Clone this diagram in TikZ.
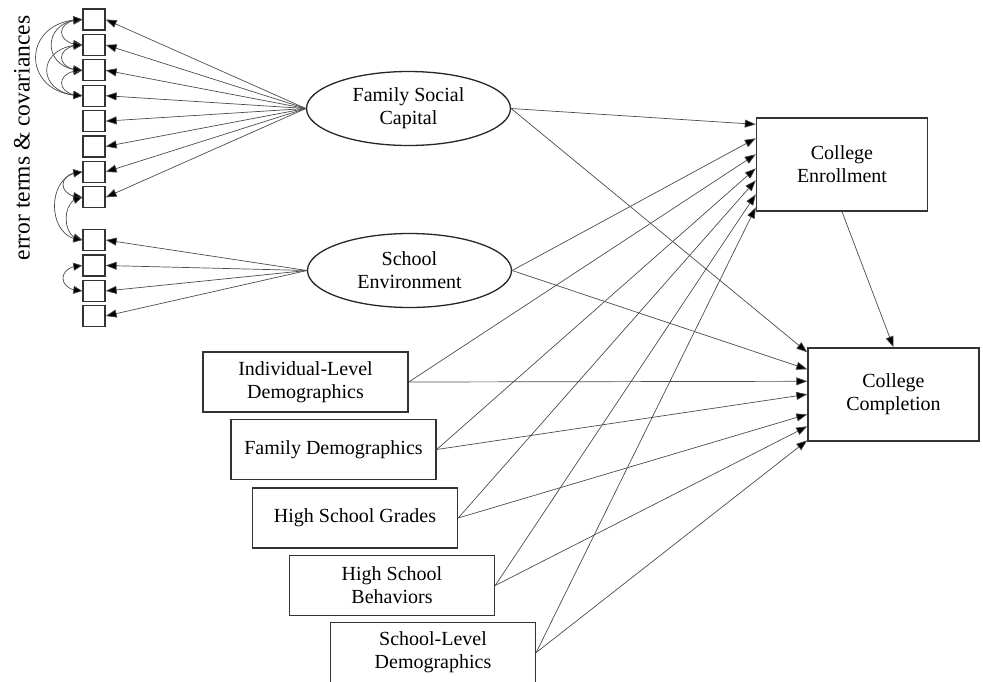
\documentclass[tikz,border=0pt]{standalone}
\usepackage{fontspec}
\setmainfont{Liberation Serif}
\usetikzlibrary{arrows.meta}
\usetikzlibrary{shapes.geometric}
\usetikzlibrary{bending}

\tikzset{
  ind/.style={draw=black!80,line width=1.3pt,minimum width=22pt,minimum height=21pt,inner sep=0pt},
  latent/.style={ellipse,draw=black!85,line width=1.3pt,minimum width=204pt,minimum height=74pt,align=center,inner sep=0pt},
  obs/.style={draw=black!80,line width=1.4pt,minimum width=205pt,minimum height=60pt,align=center,inner sep=0pt},
  outc/.style={draw=black!80,line width=1.4pt,minimum width=171pt,minimum height=93pt,align=center,inner sep=0pt},
  regpath/.style={draw=black!70,line width=0.7pt,-{Triangle[length=11pt,width=8pt,fill=black]}},
  cov/.style={draw=black!70,line width=0.7pt,{Triangle[length=9pt,width=8pt,fill=black]}-{Triangle[length=9pt,width=8pt,fill=black]}}
}

\begin{document}
\begin{tikzpicture}[x=1pt,y=-1pt,font=\fontsize{20}{23}\selectfont]

\useasboundingbox (0,0) rectangle (983,681);

\node[rotate=90,font=\fontsize{23.5}{26}\selectfont] (lbl) at (22,138) {error terms \& covariances};

\node[ind] (i1) at (94,19.5) {};
\node[ind] (i2) at (94,44.9) {};
\node[ind] (i3) at (94,70.3) {};
\node[ind] (i4) at (94,95.7) {};
\node[ind] (i5) at (94,121.1) {};
\node[ind] (i6) at (94,146.5) {};
\node[ind] (i7) at (94,171.9) {};
\node[ind] (i8) at (94,197.3) {};
\node[ind] (i9) at (94,240) {};
\node[ind] (i10) at (94,265.5) {};
\node[ind] (i11) at (94,291) {};
\node[ind] (i12) at (94,316) {};

\node[latent] (fsc) at (408.5,108.5) {Family Social\\Capital};
\node[latent] (se) at (409.5,270.5) {School\\Environment};

\node[outc] (ce) at (842,164.5) {College\\Enrollment};
\node[outc] (cc) at (893.5,394.5) {College\\Completion};

\node[obs] (ind) at (305.5,382) {Individual-Level\\Demographics};
\node[obs] (fam) at (333.5,449.5) {Family Demographics};
\node[obs] (hsg) at (355,518) {High School Grades};
\node[obs] (hsb) at (392,585.5) {High School\\Behaviors};
\node[obs] (sld) at (433,652.5) {School-Level\\Demographics};

\draw[regpath] (fsc.west) -- (i1.east);
\draw[regpath] (fsc.west) -- (i2.east);
\draw[regpath] (fsc.west) -- (i3.east);
\draw[regpath] (fsc.west) -- (i4.east);
\draw[regpath] (fsc.west) -- (i5.east);
\draw[regpath] (fsc.west) -- (i6.east);
\draw[regpath] (fsc.west) -- (i7.east);
\draw[regpath] (fsc.west) -- (i8.east);
\draw[regpath] (se.west) -- (i9.east);
\draw[regpath] (se.west) -- (i10.east);
\draw[regpath] (se.west) -- (i11.east);
\draw[regpath] (se.west) -- (i12.east);

\draw[cov] (i1.west) to[out=180,in=180,looseness=2.8] (i2.west);
\draw[cov] (i2.west) to[out=180,in=180,looseness=2.8] (i3.west);
\draw[cov] (i3.west) to[out=180,in=180,looseness=2.8] (i4.west);
\draw[cov] (i1.west) to[out=180,in=180,looseness=2.1] (i3.west);
\draw[cov] (i2.west) to[out=180,in=180,looseness=2.4] (i4.west);
\draw[cov] (i1.west) to[out=180,in=180,looseness=2.1] (i4.west);
\draw[cov] (i7.west) to[out=180,in=180,looseness=2.6] (i8.west);
\draw[cov] (i8.west) to[out=180,in=180,looseness=1.3] (i9.west);
\draw[cov] (i7.west) to[out=180,in=180,looseness=1.4] (i9.west);
\draw[cov] (i10.west) to[out=180,in=180,looseness=2.6] (i11.west);

\draw[regpath] (fsc.east) -- ([yshift=-7pt]ce.north west);
\draw[regpath] (se.east) -- ([yshift=-21pt]ce.north west);
\draw[regpath] (ind.east) -- ([yshift=-37pt]ce.north west);
\draw[regpath] (fam.east) -- ([yshift=-51pt]ce.north west);
\draw[regpath] (hsg.east) -- ([yshift=-63pt]ce.north west);
\draw[regpath] (hsb.east) -- ([yshift=-77pt]ce.north west);
\draw[regpath] (sld.east) -- ([yshift=-90pt]ce.north west);

\draw[regpath] (fsc.east) -- ([yshift=-5pt]cc.north west);
\draw[regpath] (se.east) -- ([yshift=-22pt]cc.north west);
\draw[regpath] (ind.east) -- ([yshift=-34pt]cc.north west);
\draw[regpath] (fam.east) -- ([yshift=-47pt]cc.north west);
\draw[regpath] (hsg.east) -- ([yshift=-67pt]cc.north west);
\draw[regpath] (hsb.east) -- ([yshift=-79pt]cc.north west);
\draw[regpath] (sld.east) -- ([yshift=-93pt]cc.north west);

\draw[regpath] (ce.south) -- (cc.north);

\end{tikzpicture}
\end{document}
